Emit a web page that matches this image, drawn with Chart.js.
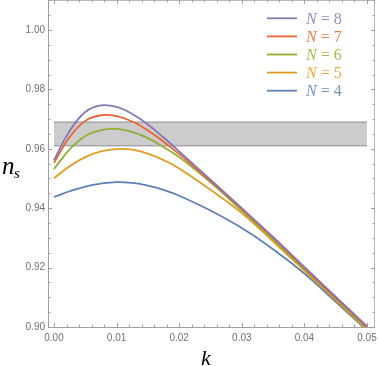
<!DOCTYPE html>
<html>
<head>
<meta charset="utf-8">
<script src="https://cdn.jsdelivr.net/npm/chart.js@4/dist/chart.umd.min.js"></script>
<style>
  body { margin: 0; background: #fff; }
  canvas { display: block; }
</style>
</head>
<body>
<canvas id="myChart" width="379" height="366"></canvas>
<script>
// data
const kValues = [0, 0.0025, 0.005, 0.0075, 0.01, 0.0125, 0.015, 0.0175, 0.02, 0.025, 0.03, 0.035, 0.04, 0.045, 0.05];
const ns8 = [0.9562, 0.9660, 0.9724, 0.9746, 0.9741, 0.9717, 0.9682, 0.9638, 0.9591, 0.9496, 0.9400, 0.9303, 0.9202, 0.9102, 0.9003];
const ns7 = [0.9553, 0.9640, 0.9694, 0.9713, 0.9710, 0.9692, 0.9662, 0.9624, 0.9582, 0.9491, 0.9397, 0.9300, 0.9199, 0.9099, 0.8999];
const ns6 = [0.9532, 0.9598, 0.9643, 0.9663, 0.9667, 0.9657, 0.9636, 0.9606, 0.9572, 0.9487, 0.9392, 0.9295, 0.9195, 0.9095, 0.8996];
const ns5 = [0.9501, 0.9541, 0.9572, 0.9591, 0.9599, 0.9597, 0.9584, 0.9562, 0.9534, 0.9462, 0.9384, 0.9288, 0.9190, 0.9091, 0.8991];
const ns4 = [0.9438, 0.9457, 0.9473, 0.9483, 0.9488, 0.9485, 0.9476, 0.9462, 0.9442, 0.9392, 0.9333, 0.9262, 0.9180, 0.9085, 0.8988];
const seriesN = ['8', '7', '6', '5', '4'];
const seriesValues = [ns8, ns7, ns6, ns5, ns4];
const seriesColors = ['#8778b3', '#eb6235', '#8fb032', '#e19c24', '#5e81b5'];

// observational band
const bandK = [0, 0.05];
const bandLow = [0.961, 0.961];
const bandHigh = [0.969, 0.969];

// tick labels
const xTickLabels = [0, 0.01, 0.02, 0.03, 0.04, 0.05];
const yTickLabels = [0.90, 0.92, 0.94, 0.96, 0.98, 1.00];
const xMinorStep = 0.002;
const yMinorStep = 0.005;

const tickColor = '#707070';

// frame, inward ticks, legend and axis names
const decorPlugin = {
    id: 'decor',
    afterDatasetsDraw(chart) {
        const { ctx, chartArea: a, scales: { x, y } } = chart;
        ctx.save();
        ctx.lineWidth = 1;

        ctx.strokeStyle = '#b8b8b8';
        ctx.beginPath();
        ctx.moveTo(a.left, a.top + 0.5); ctx.lineTo(a.right, a.top + 0.5);
        ctx.moveTo(a.right - 0.5, a.top); ctx.lineTo(a.right - 0.5, a.bottom);
        ctx.stroke();
        ctx.strokeStyle = '#a0a0a0';
        ctx.beginPath();
        ctx.moveTo(a.left + 0.5, a.top); ctx.lineTo(a.left + 0.5, a.bottom);
        ctx.moveTo(a.left, a.bottom + 0.5); ctx.lineTo(a.right, a.bottom + 0.5);
        ctx.stroke();

        // x ticks
        ctx.strokeStyle = '#a0a0a0';
        ctx.beginPath();
        for (let i = 0; i * xMinorStep <= x.max; i++) {
            const v = i * xMinorStep;
            const major = i % 5 === 0;
            const len = major ? 4 : 2.5;
            const px = Math.round(x.getPixelForValue(v)) + 0.5;
            ctx.moveTo(px, a.bottom); ctx.lineTo(px, a.bottom - len);
            ctx.moveTo(px, a.top); ctx.lineTo(px, a.top + len);
        }
        // y ticks
        for (let i = 0; 0.9 + i * yMinorStep <= y.max; i++) {
            const v = 0.9 + i * yMinorStep;
            const major = i % 4 === 0;
            const len = major ? 4 : 2.5;
            const py = Math.round(y.getPixelForValue(v)) + 0.5;
            ctx.moveTo(a.left, py); ctx.lineTo(a.left + len, py);
            ctx.moveTo(a.right, py); ctx.lineTo(a.right - len, py);
        }
        ctx.stroke();

        // legend
        for (let i = 0; i < seriesN.length; i++) {
            const ly = 18.3 + i * 18.1;
            ctx.strokeStyle = seriesColors[i];
            ctx.lineWidth = 1.8;
            ctx.beginPath();
            ctx.moveTo(267, ly); ctx.lineTo(297, ly);
            ctx.stroke();
            ctx.fillStyle = seriesColors[i];
            ctx.globalAlpha = 0.85;
            ctx.textBaseline = 'alphabetic';
            let tx = 306;
            ctx.font = 'italic 16px "Liberation Serif"';
            ctx.fillText('N', tx, ly + 5.5);
            tx += ctx.measureText('N').width + 4;
            ctx.font = '16px "Liberation Serif"';
            ctx.fillText('=', tx, ly + 5.5);
            tx += ctx.measureText('=').width + 4;
            ctx.fillText(seriesN[i], tx, ly + 5.5);
            ctx.globalAlpha = 1;
        }

        // axis names
        ctx.fillStyle = '#000';
        ctx.font = 'italic 25px "Liberation Serif"';
        ctx.fillText('n', 2, 174);
        const nw = ctx.measureText('n').width;
        ctx.font = 'italic 15px "Liberation Serif"';
        ctx.fillText('s', 2 + nw - 0.5, 178);
        ctx.font = 'italic 22px "Liberation Serif"';
        ctx.fillText('k', 201, 365);
        ctx.restore();
    }
};

const curveSets = seriesValues.map((vals, i) => ({
    label: 'N = ' + seriesN[i],
    data: kValues.map((k, j) => ({ x: k, y: vals[j] })),
    borderColor: seriesColors[i],
    borderWidth: 1.8,
    tension: 0.4,
    fill: false
}));

const ctx = document.getElementById('myChart');
new Chart(ctx, {
    type: 'line',
    data: {
        datasets: [
            ...curveSets,
            {
                label: 'band high',
                data: bandK.map((k, j) => ({ x: k, y: bandHigh[j] })),
                borderColor: '#8a8a8a',
                borderWidth: 1,
                tension: 0,
                fill: false
            },
            {
                label: 'band low',
                data: bandK.map((k, j) => ({ x: k, y: bandLow[j] })),
                borderColor: '#8a8a8a',
                borderWidth: 1,
                backgroundColor: '#cccccc',
                tension: 0,
                fill: '-1'
            }
        ]
    },
    options: {
        responsive: false,
        animation: false,
        layout: { padding: { left: 0, right: 4, top: 0, bottom: 0 } },
        elements: { point: { radius: 0 } },
        plugins: { legend: { display: false }, tooltip: { enabled: false } },
        scales: {
            x: {
                type: 'linear',
                min: -0.00096,
                max: 0.05128,
                grid: { display: false, drawTicks: false },
                border: { display: false },
                afterBuildTicks: s => { s.ticks = xTickLabels.map(v => ({ value: v })); },
                afterFit: s => { s.height = 39; s.paddingLeft = 0; s.paddingRight = 0; },
                ticks: {
                    callback: v => v.toFixed(2),
                    color: tickColor,
                    font: { family: 'Liberation Sans', size: 10 },
                    padding: 5,
                    maxRotation: 0,
                    autoSkip: false
                }
            },
            y: {
                type: 'linear',
                min: 0.9,
                max: 1.0101,
                grid: { display: false, drawTicks: false },
                border: { display: false },
                afterBuildTicks: s => { s.ticks = yTickLabels.map(v => ({ value: v })); },
                afterFit: s => { s.width = 48; s.paddingTop = 0; s.paddingBottom = 0; },
                ticks: {
                    callback: v => v.toFixed(2),
                    color: tickColor,
                    font: { family: 'Liberation Sans', size: 10 },
                    padding: 3,
                    autoSkip: false
                }
            }
        }
    },
    plugins: [decorPlugin]
});
</script>
</body>
</html>
